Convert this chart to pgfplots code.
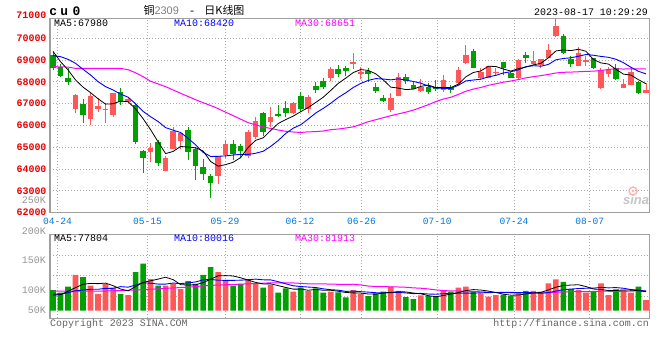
\documentclass[border=0pt]{standalone}
\usepackage{pgfplots}
\pgfplotsset{compat=1.18}
\usepackage{pgfplotstable}
\usepackage{fontspec}
\setmainfont{Liberation Sans}
\newfontfamily\mono{Liberation Mono}
\newfontfamily\cjk{Noto Sans CJK SC}
\definecolor{kred}{RGB}{255,88,88}
\definecolor{kgreen}{RGB}{0,160,0}
\definecolor{tickred}{RGB}{235,0,0}
\definecolor{dateblue}{RGB}{0,119,221}
\definecolor{lab}{RGB}{150,150,150}
\definecolor{framec}{RGB}{160,160,160}
\definecolor{gridc}{RGB}{170,170,170}
\definecolor{copyc}{RGB}{100,100,100}
\definecolor{mablue}{RGB}{0,0,255}
\definecolor{mamag}{RGB}{255,0,255}

% rising days (red): index open high low close
\pgfplotstableread{
i o h l c
3 66757 67430 66590 67400
5 66300 67506 66040 67354
6 66757 67247 66635 66895
7 66711 67048 66130 66773
8 66482 67506 66375 67476
10 67094 67323 67017 67216
13 64800 65182 64341 64953
15 63928 64601 63900 64525
16 64938 65947 64900 65748
17 65305 65718 64938 65672
22 63699 64620 63317 64601
23 64647 65305 64494 65152
26 64601 65794 64494 65687
27 65458 66375 65381 66222
29 66176 66834 65947 66375
32 66574 67078 66528 67017
34 66773 67400 66559 67308
37 68195 68699 68057 68577
40 68800 69330 68600 68900
41 68363 68699 68118 68470
45 66712 67507 66620 67247
46 67354 68424 67330 68241
49 67583 68118 67552 67751
52 67629 68317 67552 68088
54 67964 68668 67934 68546
55 68882 69692 68805 69234
57 68194 68652 68087 68438
58 68194 68750 68163 68729
59 68392 68652 68270 68469
62 68194 69050 68133 69004
64 68821 69417 68775 68958
65 68775 69050 68622 69035
66 69111 69738 69081 69463
67 70105 70900 70050 70564
70 68744 69616 68720 69341
71 68928 69188 68744 69004
73 67735 68622 67674 68546
74 68347 68668 68240 68546
76 67735 68133 67710 67903
77 67857 68622 67840 68438
79 67506 67964 67490 67628
}\upk

% falling days (green): index open high low close
\pgfplotstableread{
i o h l c
0 69234 69350 68550 68620
1 68700 68810 68240 68290
2 68190 68650 67880 68010
4 66990 67220 66130 66480
9 67552 67736 66941 67094
11 66941 67017 65152 65259
12 64846 64870 63837 64525
14 65259 65335 64143 64296
18 65794 65947 64418 64800
19 64907 65029 63500 64143
20 64112 64449 63500 63776
21 63699 63776 62659 63348
24 65136 65335 64418 64693
25 65060 65136 64494 64846
28 66559 66635 65519 65718
30 66528 66941 66375 66452
31 66803 67140 66375 66589
33 67354 67537 66635 66742
35 67812 67981 67507 67629
36 68042 68164 67660 67782
38 68577 68776 68210 68363
39 68623 68730 68271 68516
42 68485 68623 68011 68378
43 67782 67935 67507 67583
44 67277 67400 67063 67124
47 68241 68363 67889 68042
48 67858 68042 67670 67690
50 67751 67935 67446 67552
51 67751 68088 67583 67660
53 67740 67860 67480 67640
56 69417 69509 68640 68653
60 68897 68920 68316 68652
61 68393 68469 68180 68194
63 69234 69356 68882 69081
68 70105 70197 69264 69310
69 69035 69188 68698 68805
72 69081 69111 68592 68653
75 68653 68806 68087 68133
78 68010 68030 67444 67475
}\downk

\pgfplotsset{
 kframe/.style={scale only axis, width=599.3bp, xmin=-0.4, xmax=79.44,
   axis line style={framec, line width=1.1bp},
   major tick length=0pt, tick style={draw=none},
   scaled x ticks=false, scaled y ticks=false,
   grid=major, grid style={gridc, line width=0.8bp, dash pattern=on 1bp off 2bp},
   xtick={0.6,12.6,22.9,32.9,41.1,51.2,61.4,71.5}},
 wick/.style={only marks, mark size=0pt, mark options={draw=none, fill=none},
   error bars/.cd, y dir=plus, y explicit, error mark=none, error bar style={#1, line width=1bp}},
 body/.style={only marks, mark size=0pt, mark options={draw=none, fill=none},
   error bars/.cd, y dir=plus, y explicit, error mark=none, error bar style={#1, line width=5.6bp}},
}

\begin{document}
\begin{tikzpicture}[x=1bp,y=1bp]
\path[use as bounding box, fill=white] (0,0) rectangle (660,360);

% ---------------- price panel ----------------
\begin{axis}[kframe, at={(50bp,147.3bp)}, anchor=south west, height=194.4bp,
  ymin=62000, ymax=70917,
  xticklabels={04-24,05-15,05-29,06-12,06-26,07-10,07-24,08-07},
  xticklabel style={font=\mono\fontsize{9.6}{10}\selectfont, text=dateblue, anchor=center, yshift=-8.8bp},
  ytick={62000,63000,64000,65000,66000,67000,68000,69000,70000},
  yticklabels={62000,63000,64000,65000,66000,67000,68000,69000,70000},
  yticklabel style={font=\mono\bfseries\fontsize{10}{10}\selectfont, text=tickred}]

\addplot[wick=kred] table[x=i, y=l, y error plus expr=\thisrow{h}-\thisrow{l}] {\upk};
\addplot[wick=kgreen] table[x=i, y=l, y error plus expr=\thisrow{h}-\thisrow{l}] {\downk};
\addplot[body=kred] table[x=i, y=o, y error plus expr=\thisrow{c}-\thisrow{o}] {\upk};
\addplot[body=kgreen] table[x=i, y=c, y error plus expr=\thisrow{o}-\thisrow{c}] {\downk};

% MA30
\addplot[mamag, line width=1bp, mark=none] coordinates {
(0,68700) (2,68680) (3,68620) (9,68620) (10,68560) (11,68420) (12,68240) (13,68030)
(15,67782) (17,67476) (19.3,67140) (21.6,66834) (23.8,66482) (26,66130) (28,65930)
(29,65865) (30,65793) (31,65736) (32,65703) (33,65681) (34,65709) (35,65718) (36,65747)
(37,65807) (38,65837) (39,65884) (40,65940) (41,66048) (42,66176) (43,66264) (44,66358)
(45,66449) (46,66532) (47,66611) (48,66707) (49,66827) (50,66953) (51,67097) (52,67213)
(53,67296) (54,67425) (55,67571) (56,67670) (57,67744) (58,67844) (59,67914) (60,67987)
(61,68041) (62,68107) (63,68185) (64,68240) (65,68287) (66,68343) (67,68409) (68,68440)
(69,68450) (70,68465) (71,68483) (72,68492) (73,68524) (74,68571) (75,68601) (76,68589)
(77,68603) (78,68596) (79,68591)};
% MA10
\addplot[mablue, line width=0.9bp, mark=none] coordinates {
(0,69204) (1,69158) (2,69036) (3,68852) (4,68577) (5,68317) (6,68011) (7,67782) (8,67629)
(9,67439) (10,67299) (11,66996) (12,66647) (13,66403) (14,66184) (15,65902) (16,65787)
(17,65677) (18,65409) (19,65114) (20,64770) (21,64579) (22,64587) (23,64606) (24,64646)
(25,64678) (26,64672) (27,64727) (28,64819) (29,65042) (30,65310) (31,65634) (32,65875)
(33,66034) (34,66296) (35,66574) (36,66784) (37,67019) (38,67284) (39,67498) (40,67743)
(41,67931) (42,68067) (43,68151) (44,68132) (45,68094) (46,68140) (47,68086) (48,68019)
(49,67943) (50,67808) (51,67727) (52,67698) (53,67704) (54,67846) (55,68045) (56,68086)
(57,68125) (58,68229) (59,68301) (60,68411) (61,68464) (62,68556) (63,68700) (64,68742)
(65,68721) (66,68802) (67,69015) (68,69073) (69,69107) (70,69176) (71,69257) (72,69222)
(73,69168) (74,69127) (75,69037) (76,68881) (77,68668) (78,68485) (79,68367)};
% MA5
\addplot[black, line width=0.8bp, mark=none] coordinates {
(0,69400) (1,68930) (2,68550) (3,68090) (4,67760) (5,67507) (6,67228) (7,66980) (8,66996)
(9,67118) (10,67091) (11,66764) (12,66314) (13,65809) (14,65250) (15,64712) (16,64809)
(17,65039) (18,65008) (19,64978) (20,64828) (21,64348) (22,64134) (23,64204) (24,64314)
(25,64528) (26,64996) (27,65320) (28,65433) (29,65770) (30,66091) (31,66271) (32,66430)
(33,66635) (34,66822) (35,67057) (36,67296) (37,67608) (38,67932) (39,68173) (40,68428)
(41,68565) (42,68525) (43,68369) (44,68091) (45,67760) (46,67715) (47,67647) (48,67669)
(49,67794) (50,67855) (51,67739) (52,67748) (53,67738) (54,67897) (55,68234) (56,68432)
(57,68502) (58,68720) (59,68705) (60,68588) (61,68496) (62,68610) (63,68680) (64,68778)
(65,68854) (66,69108) (67,69420) (68,69466) (69,69435) (70,69497) (71,69405) (72,69023)
(73,68870) (74,68818) (75,68576) (76,68356) (77,68313) (78,68099) (79,67915)};
\end{axis}

% ---------------- volume panel (thousands) ----------------
\begin{axis}[kframe, at={(50bp,41.7bp)}, anchor=south west, height=84bp,
  ymin=-31.2, ymax=314, xticklabels={}, ytick={59.2,143.9,229}, yticklabels={}]
\addplot[ybar, bar width=5.6bp, bar shift=0pt, fill=kred, draw=none] coordinates {
(3,147) (5,103) (6,69) (7,110) (8,95) (10,64) (13,130) (15,103) (16,110) (17,89)
(22,159) (23,126) (26,130) (27,112) (29,105) (32,78) (34,81) (37,78) (40,85) (41,69)
(45,99) (46,82) (49,63) (52,81) (54,95) (55,99) (57,71) (58,58) (59,64) (62,74)
(64,82) (65,78) (66,112) (67,129) (70,85) (71,74) (73,112) (74,64) (76,85) (77,74) (79,44)};
\addplot[ybar, bar width=5.6bp, bar shift=0pt, fill=kgreen, draw=none] coordinates {
(0,85) (1,74) (2,99) (4,138) (9,69) (11,159) (12,193) (14,103) (18,122) (19,110)
(20,147) (21,179) (24,103) (25,110) (28,95) (30,74) (31,92) (33,95) (35,92) (36,74)
(38,75) (39,55) (42,60) (43,71) (44,78) (47,56) (48,48) (50,60) (51,60) (53,78)
(56,81) (60,66) (61,60) (63,82) (68,119) (69,89) (72,78) (75,88) (78,99)};
% MA30
\addplot[mamag, line width=1bp, mark=none] coordinates {
(0,80) (6,80) (11,85) (14,90) (18,97) (21,104) (24,108) (28,113)
(29,114.6) (30,114.2) (31,114.8) (32,114.1) (33,112.4) (34,110.5) (35,110.1) (36,110.3)
(37,109.2) (38,108.6) (39,108.1) (40,108.8) (41,105.8) (42,101.4) (43,99.4) (44,98.6)
(45,98.4) (46,97.5) (47,96.4) (48,93.9) (49,92.4) (50,89.5) (51,85.5) (52,82.9) (53,81.3)
(54,81.0) (55,80.7) (56,79.0) (57,77.7) (58,76.4) (59,75.1) (60,74.8) (61,73.7) (62,73.6)
(63,73.2) (64,73.2) (65,72.7) (66,74.0) (67,75.7) (68,77.2) (69,78.3) (70,78.3) (71,78.5)
(72,79.1) (73,80.4) (74,80.0) (75,79.6) (76,79.7) (77,80.3) (78,82.0) (79,81.4)};
% MA10
\addplot[mablue, line width=0.9bp, mark=none] coordinates {
(0,68) (1,68) (2,74) (3,82) (4,85) (5,88) (6,88) (7,92) (8,92) (9,98.9) (10,96.8)
(11,105.3) (12,114.7) (13,113.0) (14,109.5) (15,109.5) (16,113.6) (17,111.5) (18,114.2)
(19,118.3) (20,126.6) (21,128.6) (22,125.2) (23,124.8) (24,124.8) (25,125.5) (26,127.5)
(27,129.8) (28,127.1) (29,126.6) (30,119.3) (31,110.6) (32,102.5) (33,99.4) (34,97.2)
(35,95.4) (36,89.8) (37,86.4) (38,84.4) (39,79.4) (40,80.5) (41,78.2) (42,76.4) (43,74.0)
(44,73.7) (45,74.4) (46,75.2) (47,73.0) (48,70.3) (49,71.1) (50,68.6) (51,67.7) (52,69.8)
(53,70.5) (54,72.2) (55,72.2) (56,72.1) (57,73.6) (58,74.6) (59,74.7) (60,75.3) (61,75.3)
(62,74.6) (63,75.0) (64,73.7) (65,71.6) (66,74.7) (67,80.5) (68,86.6) (69,89.1) (70,91.0)
(71,92.4) (72,92.8) (73,95.8) (74,94.0) (75,95.0) (76,92.3) (77,86.8) (78,84.8) (79,80.3)};
% MA5
\addplot[black, line width=0.8bp, mark=none] coordinates {
(0,64) (1,66) (2,80) (3,95) (4,108.6) (5,112.2) (6,111.2) (7,113.4) (8,103.0) (9,89.2)
(10,81.4) (11,99.4) (12,116.0) (13,123.0) (14,129.8) (15,137.6) (16,127.8) (17,107.0)
(18,105.4) (19,106.8) (20,115.6) (21,129.4) (22,143.4) (23,144.2) (24,142.8) (25,135.4)
(26,125.6) (27,116.2) (28,110.0) (29,110.4) (30,103.2) (31,95.6) (32,88.8) (33,88.8)
(34,84.0) (35,87.6) (36,84.0) (37,84.0) (38,80.0) (39,74.8) (40,73.4) (41,72.4) (42,68.8)
(43,68.0) (44,72.6) (45,75.4) (46,78.0) (47,77.2) (48,72.6) (49,69.6) (50,61.8) (51,57.4)
(52,62.4) (53,68.4) (54,74.8) (55,82.6) (56,86.8) (57,84.8) (58,80.8) (59,74.6) (60,68.0)
(61,63.8) (62,64.4) (63,69.2) (64,72.8) (65,75.2) (66,85.6) (67,96.6) (68,104.0) (69,105.4)
(70,106.8) (71,99.2) (72,89.0) (73,87.6) (74,82.6) (75,83.2) (76,85.4) (77,84.6) (78,82.0) (79,78.0)};
\end{axis}

% ---------------- texts ----------------
\begin{scope}[every node/.style={inner sep=0pt}]
\node[anchor=base west, font=\mono\bfseries\fontsize{13}{13}\selectfont] at (49.1,344.3)
  {c\hspace{3.4bp}u\hspace{4.3bp}0};
\node[anchor=base, font=\fontsize{11}{11}\selectfont] at (194,346)
  {{\cjk 铜}{\color{gray}2309}\hspace{10bp}{\mono -}\hspace{9bp}{\cjk 日K线图}};
\node[anchor=base east, font=\mono\fontsize{10}{10}\selectfont] at (648,345) {2023-08-17 10:29:29};
\node[anchor=east, font=\mono\bfseries\fontsize{10}{10}\selectfont, text=tickred] at (46.5,344.6) {71000};

\node[anchor=base west, font=\mono\fontsize{10}{10}\selectfont] at (54,333.3) {MA5:67980};
\node[anchor=base west, font=\mono\fontsize{10}{10}\selectfont, text=mablue] at (174,333.3) {MA10:68420};
\node[anchor=base west, font=\mono\fontsize{10}{10}\selectfont, text=mamag] at (295,333.3) {MA30:68651};

\node[anchor=base west, font=\mono\fontsize{10}{10}\selectfont] at (54,118.3) {MA5:77804};
\node[anchor=base west, font=\mono\fontsize{10}{10}\selectfont, text=mablue] at (174,118.3) {MA10:80016};
\node[anchor=base west, font=\mono\fontsize{10}{10}\selectfont, text=mamag] at (295,118.3) {MA30:81913};

\node[anchor=east, font=\mono\fontsize{10}{10}\selectfont, text=lab] at (46,159.3) {250K};
\node[anchor=east, font=\mono\fontsize{10}{10}\selectfont, text=lab] at (46,128.8) {200K};
\node[anchor=east, font=\mono\fontsize{10}{10}\selectfont, text=lab] at (46,99.3) {150K};
\node[anchor=east, font=\mono\fontsize{10}{10}\selectfont, text=lab] at (46,70) {100K};
\node[anchor=east, font=\mono\fontsize{10}{10}\selectfont, text=lab] at (46,49.7) {50K};

\node[anchor=base west, font=\mono\fontsize{10}{10}\selectfont, text=copyc] at (50,34) {Copyright 2023 SINA.COM};
\node[anchor=base east, font=\mono\fontsize{10}{10}\selectfont, text=copyc] at (649,34) {http://finance.sina.com.cn};

\node[anchor=center, font=\bfseries\itshape\fontsize{13}{13}\selectfont, text=gray!45] at (636,160) {sina};
\draw[red!30, line width=1.4bp] (633,169) circle (4);
\fill[red!30] (633,169) circle (1.3);
\end{scope}
\end{tikzpicture}
\end{document}
